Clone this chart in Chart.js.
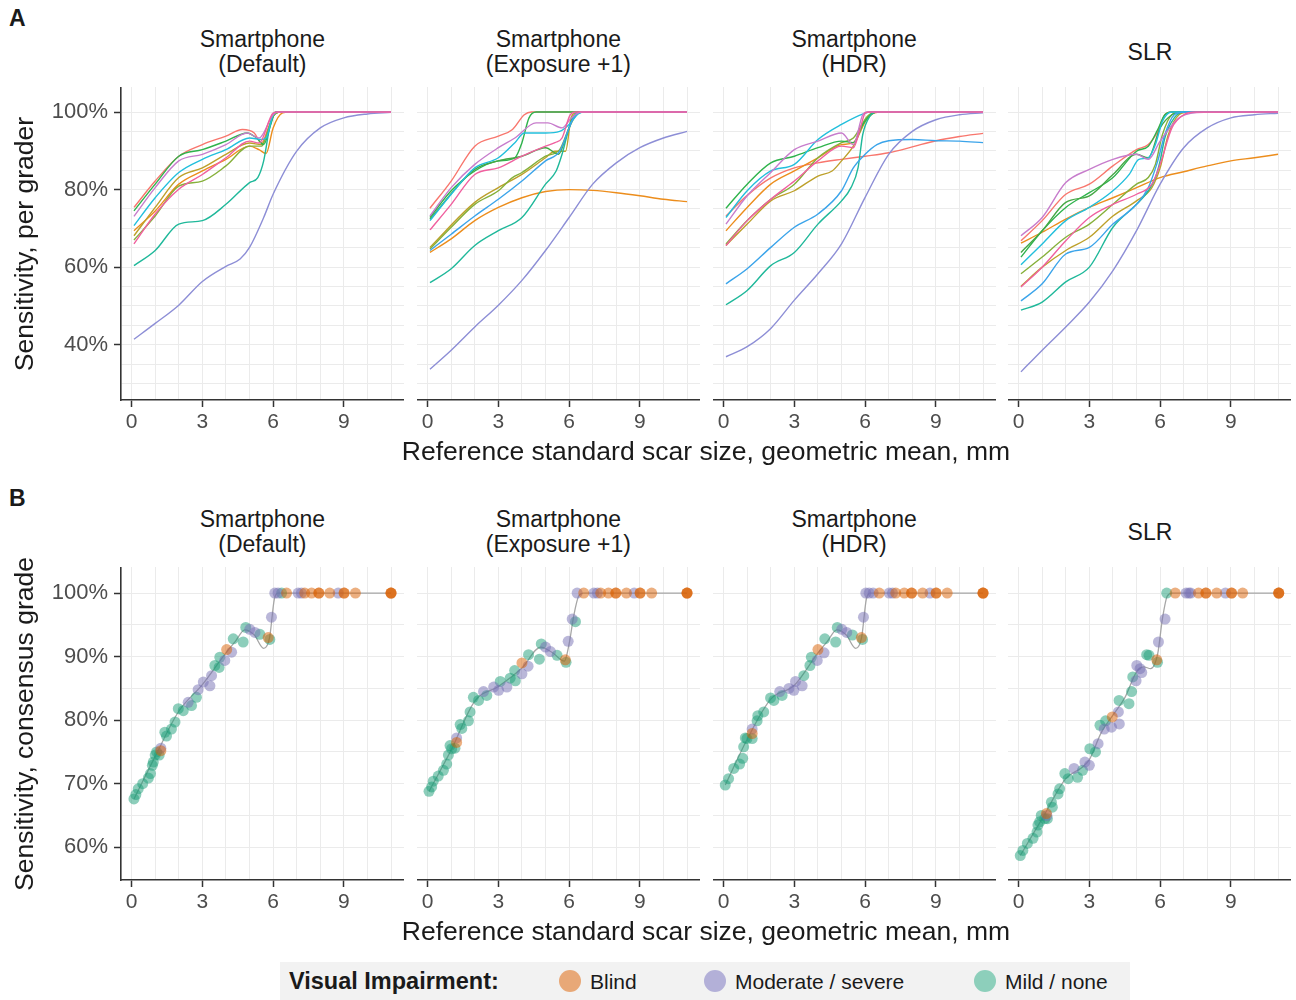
<!DOCTYPE html>
<html>
<head>
<meta charset="utf-8">
<script src="https://cdn.jsdelivr.net/npm/chart.js@4.4.1/dist/chart.umd.min.js"></script>
<style>
  body { margin: 0; background: #fff; font-family: "Liberation Sans", Arial, sans-serif; }
  #page { position: relative; width: 1296px; height: 1000px; overflow: hidden; }
  .abs { position: absolute; white-space: nowrap; color: #1a1a1a; }
  .strip { text-align: center; font-size: 23px; line-height: 25px; height: 50px;
           display: flex; flex-direction: column; justify-content: center; }
  .tag { font-weight: bold; font-size: 23px; }
  .axtitle { font-size: 26.5px; }
  #legend { position: absolute; left: 280px; top: 962px; width: 850px; height: 38px; background: #f2f2f2; }
  #legend span { position: absolute; top: 8px; font-size: 21px; color: #1a1a1a; white-space: nowrap; }
  #legend i { position: absolute; top: 8px; width: 22px; height: 22px; border-radius: 50%; }
</style>
</head>
<body>
<div id="page"></div>
<script>
// ---- data ----
const xTickLabels = [0, 3, 6, 9];
const xGridLines = [0, 1, 2, 3, 4, 5, 6, 7, 8, 9, 10, 11];
const graderTicks = [40, 60, 80, 100];
const graderGrid = [30, 35, 40, 45, 50, 55, 60, 65, 70, 75, 80, 85, 90, 95, 100];
const consensusTicks = [60, 70, 80, 90, 100];
const consensusGrid = [60, 65, 70, 75, 80, 85, 90, 95, 100];
const panelNames = [['Smartphone', '(Default)'], ['Smartphone', '(Exposure +1)'], ['Smartphone', '(HDR)'], ['SLR']];
const groupNames = ['Blind', 'Moderate / severe', 'Mild / none'];

// per grader curves (panel A), [scar size mm, sensitivity %]
const curvesDefault = {
  g1: [[0.1,75.4],[1,82.2],[2,88.6],[3,91.6],[4,93.8],[4.7,95.5],[5.2,94.6],[5.5,92],[5.8,95.9],[6.1,99.7],[6.4,100],[11,100]],
  g2: [[0.1,69.4],[1,74.5],[2,81.4],[3,84.8],[4,87.8],[5,91.2],[5.4,90.3],[5.7,89.3],[6,95.9],[6.4,99.8],[6.7,100],[11,100]],
  g3: [[0.1,68.1],[1,75.4],[2,83.1],[3,85.6],[4,89.1],[5,92],[5.5,91.6],[6,98.9],[6.3,100],[11,100]],
  g4: [[0.1,67.0],[1,73.2],[2,80.9],[3,82.2],[4,86.1],[5,91.2],[5.5,91.2],[6,98.9],[6.3,100],[11,100]],
  g5: [[0.1,74.5],[1,81.4],[2,88.6],[3,90.3],[4,92.5],[4.9,94.6],[5.3,93.3],[5.6,91.6],[5.9,96.8],[6.1,100],[11,100]],
  g7: [[0.1,60.4],[1,64.3],[2,71.1],[3,72.0],[4,76.2],[5,81.8],[5.35,83.1],[5.6,87.4],[5.85,95.9],[6.07,99.7],[6.3,100],[11,100]],
  g8: [[0.1,70.7],[1,77.9],[2,84.4],[3,87.8],[4,90.3],[5,93.3],[5.5,92.9],[5.7,93.3],[6,99.3],[6.2,100],[11,100]],
  g10: [[0.1,41.4],[1,45.5],[2,50.2],[3,56.3],[4,60.2],[4.6,62.1],[5,65.1],[5.6,72.8],[6,78.8],[7,89.9],[8,95.9],[9,98.5],[10,99.5],[11,99.9]],
  g11: [[0.1,73.1],[1,80.5],[2,87.4],[3,89.1],[4,91.6],[4.9,94.6],[5.4,93.3],[6,99.3],[6.2,100],[11,100]],
  g12: [[0.1,66.0],[1,73.7],[2,80.1],[3,83.9],[4,88.2],[5,92.5],[5.4,92],[6,99.7],[6.2,100],[11,100]]
};
const curvesExposure = {
  g1: [[0.1,75.2],[1,82.2],[2,91.2],[3,93.8],[3.6,95.5],[4.1,99.3],[4.4,100],[11,100]],
  g2: [[0.1,63.8],[1,67.3],[2,72.0],[3,75.4],[4,77.9],[5,79.5],[6,80.0],[7,79.8],[8,79.2],[9,78.4],[10,77.5],[11,76.9]],
  g3: [[0.1,65.1],[2,76.7],[3,80.5],[4,83.9],[5,88.2],[5.4,89.9],[5.85,89.9],[6.1,98.8],[6.4,100],[11,100]],
  g4: [[0.1,64.7],[1,70.3],[2,76.2],[3,79.7],[3.6,83.1],[4,84.4],[5,88.6],[5.6,90.3],[6,95.9],[6.3,99.3],[6.6,100],[11,100]],
  g5: [[0.1,72.8],[1,79.7],[2,84.8],[3,87.4],[3.7,88.2],[4,92.1],[4.3,98.5],[4.6,100],[11,100]],
  g6: [[0.1,72.4],[2,85.2],[3,87.4],[4,88.6],[5,90.8],[5.55,89.1],[5.85,93.3],[6.15,98.5],[6.4,100],[11,100]],
  g7: [[0.1,56.0],[1,59.6],[2,65.6],[3,69.4],[4,72.8],[5,81.4],[5.45,84.8],[5.7,89.1],[6,95.9],[6.25,99.3],[6.6,100],[11,100]],
  g8: [[0.1,72.0],[1,78.8],[2,85.6],[3,88.2],[3.7,92.1],[4.1,94.6],[5,94.6],[5.6,95.0],[6,96.8],[6.4,99.6],[6.7,100],[11,100]],
  g9: [[0.1,64.3],[1,68.5],[2,73.2],[3,77.5],[4,82.2],[5,87.4],[5.6,89.9],[6,95.9],[6.3,99.6],[6.6,100],[11,100]],
  g10: [[0.1,33.7],[1,38.6],[2,44.6],[3,50.2],[4,56.6],[5,64.3],[6,72.8],[7,81.4],[8,86.9],[9,90.8],[10,93.3],[11,95.0]],
  g11: [[0.1,73.2],[1,80.5],[2,86.5],[3,90.8],[3.7,93.3],[4.6,97.2],[5.1,97.2],[5.7,95.9],[6.1,98.5],[6.5,100],[11,100]],
  g12: [[0.1,69.6],[1,76.2],[2,83.9],[3,85.6],[4,88.6],[5,91.2],[5.4,92.1],[5.7,93.3],[6.05,99.3],[6.3,100],[11,100]]
};
const curvesHdr = {
  g1: [[0.1,73.2],[1,78.5],[2,83],[3,85.6],[4,86.9],[5,87.8],[6,88.6],[7,89.5],[8,91.0],[9,92.6],[10,93.7],[11,94.5]],
  g2: [[0.1,69.4],[1,75.4],[2,81.4],[3,84.8],[4,88.2],[5,91.6],[5.5,92.1],[6,97.6],[6.4,99.8],[6.7,100],[11,100]],
  g3: [[0.1,65.6],[1,71.1],[2,77.1],[3,79.7],[4,83.5],[4.6,84.8],[5,87.4],[5.5,91.2],[6.1,98.5],[6.5,100],[11,100]],
  g4: [[0.1,66.0],[1,72.0],[2,77.5],[3,81.4],[4,88.2],[5,92.1],[5.5,93.3],[6.1,98.9],[6.5,100],[11,100]],
  g5: [[0.1,75.2],[1,81.4],[2,86.9],[3,88.6],[4,90.8],[5,92.5],[5.5,92.1],[5.9,96.8],[6.3,99.6],[6.6,100],[11,100]],
  g7: [[0.1,50.3],[1,54.0],[2,60.4],[3,63.8],[4,71.1],[5,77.1],[5.4,80.5],[5.7,85.6],[5.9,94.2],[6.2,98.9],[6.5,100],[11,100]],
  g8: [[0.1,72.8],[1,79.7],[2,84.8],[3,86.5],[4,92.9],[5,96.8],[6,99.7],[6.2,100],[11,100]],
  g9: [[0.1,55.7],[1,59.6],[2,65.1],[3,70.3],[4,73.7],[5,79.7],[5.5,85.6],[6,89.1],[6.5,91.6],[7,92.6],[8,92.9],[9,92.6],[10,92.5],[11,92.1]],
  g10: [[0.1,36.9],[1,39.5],[2,44.2],[3,51.5],[4,58.3],[5,66.0],[6,78.0],[7,89.1],[8,95.0],[9,98.0],[10,99.3],[11,99.8]],
  g11: [[0.1,71.1],[1,78.4],[2,84.4],[3,90.3],[4,92.5],[5,94.6],[5.5,91.6],[5.9,99.3],[6.1,100],[11,100]],
  g12: [[0.1,65.6],[1,72.0],[2,77.5],[3,82.2],[4,87.4],[5,91.2],[5.5,90.8],[5.8,95.9],[6.0,99.7],[6.2,100],[11,100]]
};
const curvesSlr = {
  g1: [[0.1,66.8],[1,72.0],[2,78.8],[3,81.4],[4,86.1],[5,90.3],[5.5,91.6],[5.9,95.0],[6.2,99.3],[6.5,100],[11,100]],
  g2: [[0.1,66.2],[1,69.0],[2,72.4],[3,75.4],[4,77.9],[5,80.5],[6,83.1],[7,84.6],[8,86.1],[9,87.4],[10,88.2],[11,89.1]],
  g3: [[0.1,55.1],[1,60.0],[2,64.3],[3,67.7],[4,73.2],[5,77.1],[5.65,80.5],[6,85.6],[6.35,94.2],[6.8,99.3],[7.2,100],[11,100]],
  g4: [[0.1,58.3],[1,62.6],[2,67.7],[3,71.1],[4,76.2],[5,81.4],[5.5,83.1],[5.8,86.5],[6.1,94.2],[6.5,99.3],[6.9,100],[11,100]],
  g5: [[0.1,62.6],[1,69.4],[2,75.4],[3,79.2],[4,83.1],[5,89.9],[5.5,91.2],[5.9,95.5],[6.2,99.3],[6.5,100],[11,100]],
  g6: [[0.1,63.8],[1,69.4],[2,76.7],[3,78.4],[4,83.9],[5,89.1],[5.5,88.2],[6,95.9],[6.5,99.3],[6.9,100],[11,100]],
  g7: [[0.1,48.9],[1,51.0],[2,56.2],[3,60.0],[4,70.3],[5,76.2],[5.5,79.7],[5.8,83.1],[6,87.4],[6.2,93.3],[6.6,98.5],[7,100],[11,100]],
  g8: [[0.1,60.6],[1,66.0],[2,72.0],[3,75.4],[4,79.7],[4.7,84.0],[5.1,87.8],[5.5,88.2],[5.8,91.6],[6.1,97.6],[6.5,100],[11,100]],
  g9: [[0.1,51.3],[1,55.7],[2,63.4],[3,65.1],[4,71.1],[5,76.2],[5.5,80.5],[5.9,87.4],[6.2,94.2],[6.6,99.3],[7,100],[11,100]],
  g10: [[0.1,33.0],[1,38.6],[2,44.6],[3,51.0],[4,59.1],[5,69.4],[6,81.4],[7,90.8],[8,95.9],[9,98.5],[10,99.3],[11,99.7]],
  g11: [[0.1,68.1],[1,72.8],[2,81.8],[3,85.2],[4,87.8],[5,89.1],[5.5,87.8],[6,92.5],[6.9,98.9],[7.9,99.9],[11,100]],
  g12: [[0.1,54.9],[1,60.0],[2,66.8],[3,72.8],[4,76.2],[5,78.8],[5.65,81.4],[6,86.5],[6.5,95.9],[7,99.3],[7.5,100],[11,100]]
};

// consensus grade (panel B): points by visual impairment + fitted line
const blindDefault = [[1.24,75.2],[4.03,91.1],[5.79,93.0],[6.57,100],[7.34,100],[7.63,100],[7.94,100],[7.94,100],[8.4,100],[9.01,100],[9.01,100],[9.49,100],[11,100],[11,100],[11,100]];
const moderateDefault = [[1.24,75.6],[2.4,82.8],[2.82,84.8],[3.04,86.0],[3.32,85.4],[3.39,87.0],[3.95,89.4],[4.24,90.7],[5.01,94.3],[5.23,93.8],[5.93,96.2],[6.07,100],[6.21,100],[7.06,100],[7.2,100],[8.76,100]];
const mildDefault = [[0.1,67.6],[0.18,68.3],[0.28,69.2],[0.47,70.0],[0.71,70.9],[0.8,71.6],[0.88,72.9],[0.92,73.4],[1.0,74.5],[1.06,75.0],[1.17,74.5],[1.41,78.1],[1.48,77.5],[1.69,78.6],[1.84,79.7],[1.98,81.8],[2.19,81.5],[2.54,82.3],[2.75,83.6],[3.53,88.6],[3.71,88.3],[3.74,89.9],[4.31,92.8],[4.73,92.3],[4.84,94.6],[5.44,93.5],[5.86,92.7],[6.36,100]];
const fitDefault = [[0.1,67.6],[1,74.3],[2,81.4],[3,85.6],[4,90.6],[4.4,92.4],[4.8,94.2],[5.2,93.4],[5.6,91.3],[5.85,93],[6.05,99],[6.2,100],[11,100]];

const blindExposure = [[1.23,76.5],[4.0,89.0],[5.84,89.5],[6.62,100],[7.34,100],[7.67,100],[7.98,100],[7.98,100],[8.43,100],[9.01,100],[9.01,100],[9.5,100],[11,100],[11,100],[11,100]];
const moderateExposure = [[1.23,77.2],[2.37,84.5],[2.8,85.2],[3.01,84.7],[3.36,85.2],[4.0,87.3],[4.26,88.5],[5.0,91.5],[5.21,90.8],[5.96,92.4],[6.13,95.9],[6.34,100],[7.05,100],[7.2,100],[8.76,100]];
const mildExposure = [[0.06,68.8],[0.17,69.5],[0.24,70.4],[0.45,71.2],[0.67,72.1],[0.81,73.1],[0.88,74.5],[0.95,76.0],[1.02,75.5],[1.16,75.6],[1.38,79.3],[1.45,78.7],[1.73,79.9],[1.8,81.3],[1.94,83.6],[2.16,83.1],[2.51,83.9],[3.08,86.1],[3.5,86.6],[3.69,87.8],[3.72,86.2],[4.28,90.3],[4.74,89.6],[4.82,92.0],[5.49,90.2],[5.87,89.1],[6.27,95.5]];
const fitExposure = [[0.06,68.8],[1,75.3],[2,83.0],[3,85.3],[4,88.2],[4.8,91.5],[5.3,90.6],[5.8,89.3],[6.0,92],[6.2,96.5],[6.4,99.5],[6.6,100],[11,100]];

const blindHdr = [[1.21,77.9],[4.0,91.1],[5.84,93.0],[6.6,100],[7.3,100],[7.66,100],[7.97,100],[7.97,100],[8.44,100],[9.01,100],[9.01,100],[9.48,100],[11,100],[11,100],[11,100]];
const moderateHdr = [[1.21,78.6],[2.38,84.5],[2.77,85.0],[2.98,84.7],[3.05,86.1],[3.33,85.4],[3.97,89.4],[4.26,90.6],[5.01,94.3],[5.22,93.8],[5.93,96.2],[6.03,100],[6.17,100],[6.34,100],[7.02,100],[7.16,100],[8.75,100]];
const mildHdr = [[0.07,69.8],[0.21,70.8],[0.43,72.4],[0.68,73.1],[0.81,74.0],[0.85,75.8],[0.92,77.2],[0.99,77.1],[1.21,77.1],[1.42,79.9],[1.45,80.7],[1.7,81.3],[1.99,83.5],[2.13,83.1],[2.48,83.9],[3.4,87.0],[3.66,88.6],[3.72,89.9],[4.29,92.8],[4.75,92.3],[4.82,94.6],[5.46,93.4],[5.89,92.7]];
const fitHdr = [[0.07,69.8],[1,77],[2,83.3],[3,85.5],[4,90.6],[4.4,92.4],[4.8,94.2],[5.2,93.4],[5.6,91.3],[5.85,93],[6.05,99],[6.2,100],[11,100]];

const blindSlr = [[1.18,65.3],[3.97,80.5],[5.86,89.5],[6.64,100],[7.63,100],[7.94,100],[7.94,100],[8.4,100],[9.03,100],[9.03,100],[9.5,100],[11.03,100],[11.03,100],[11.03,100]];
const moderateSlr = [[1.2,65.0],[2.35,72.4],[2.81,73.4],[3.0,72.9],[3.37,76.3],[3.63,78.6],[3.94,78.9],[4.23,81.3],[4.27,79.4],[4.98,86.2],[5.01,88.6],[5.15,88.1],[5.22,87.5],[5.93,92.3],[6.21,95.9],[7.1,100],[7.22,100],[7.3,100],[8.77,100]];
const mildSlr = [[0.07,58.7],[0.18,59.5],[0.37,60.6],[0.61,61.4],[0.78,62.4],[0.82,63.5],[0.89,64.0],[0.96,65.0],[1.11,64.5],[1.22,64.5],[1.39,67.1],[1.43,66.3],[1.67,68.4],[1.74,69.2],[1.96,71.6],[2.1,70.8],[2.5,71.0],[2.71,72.1],[3.02,75.5],[3.26,75.0],[3.45,79.2],[3.69,79.9],[4.26,83.1],[4.68,82.6],[4.79,84.5],[4.84,86.8],[5.43,90.3],[5.53,90.2],[5.89,89.1],[6.28,100]];
const fitSlr = [[0.07,58.7],[1,64.5],[2,70.8],[2.7,72.6],[3,73.8],[3.5,78],[4,80.8],[4.5,83.5],[5,87.6],[5.3,88.4],[5.6,88.1],[5.9,90.5],[6.1,96],[6.3,99.5],[6.5,100],[11,100]];

// ---- styles ----
const graderColors = {
  g1: '#f8766d', g2: '#ec8d1c', g3: '#bda02a', g4: '#86b03a', g5: '#2fb34c', g6: '#45a845',
  g7: '#1fb89a', g8: '#22bfdc', g9: '#3ba4ea', g10: '#8d8ed6', g11: '#c77ccc', g12: '#f0609f'
};
const groupColors = ['rgba(217,95,2,0.5)', 'rgba(117,112,179,0.5)', 'rgba(27,158,119,0.5)'];
const legendColors = ['#e8a877', '#b3b0d8', '#8dcfbb'];
const FONT = '"Liberation Sans", Arial, sans-serif';

const colLeft = [120.7, 416.7, 712.5, 1008.3];
const panelW = 283.3;
const xRange = [-0.45, 11.55];
const rowA = { top: 87.3, h: 313.4, min: 25.75, max: 106.45 };
const rowB = { top: 567, h: 313, min: 54.85, max: 104.1 };
const Y_AXIS_W = 110, X_AXIS_H = 42;

const page = document.getElementById('page');

function addText(html, cls, style) {
  const d = document.createElement('div');
  d.className = 'abs ' + cls;
  d.innerHTML = html;
  Object.assign(d.style, style);
  page.appendChild(d);
  return d;
}

function toXY(pts) { return pts.map(([x, y]) => ({ x, y })); }

// keep the plot area exactly where the facet sits: no label overflow padding
function noPad(s) { s.paddingTop = s.paddingBottom = s.paddingLeft = s.paddingRight = 0; }

function makePanel(col, row, gridVals, tickVals, datasets) {
  const first = col === 0;
  const yw = first ? Y_AXIS_W : 0;
  const cv = document.createElement('canvas');
  const w = Math.round(panelW + yw), h = Math.round(row.h + X_AXIS_H);
  cv.width = w; cv.height = h;
  cv.style.position = 'absolute';
  cv.style.left = (colLeft[col] - yw) + 'px';
  cv.style.top = row.top + 'px';
  page.appendChild(cv);

  new Chart(cv.getContext('2d'), {
    type: 'scatter',
    data: { datasets },
    options: {
      responsive: false,
      animation: false,
      devicePixelRatio: 1,
      layout: { padding: 0, autoPadding: false },
      plugins: { legend: { display: false }, tooltip: { enabled: false } },
      scales: {
        x: {
          type: 'linear', min: xRange[0], max: xRange[1],
          afterBuildTicks: s => { s.ticks = xGridLines.map(v => ({ value: v })); },
          afterFit: s => { s.height = X_AXIS_H; noPad(s); },
          ticks: {
            autoSkip: false, maxRotation: 0, padding: 3,
            color: '#4d4d4d', font: { family: FONT, size: 21 },
            callback: v => xTickLabels.includes(v) ? String(v) : ''
          },
          grid: {
            color: '#ebebeb', lineWidth: 1, tickLength: 7, tickWidth: 1.5,
            tickColor: c => (c.tick && xTickLabels.includes(c.tick.value)) ? '#333' : 'rgba(0,0,0,0)'
          },
          border: { display: true, color: '#333', width: 1.6 }
        },
        y: {
          type: 'linear', min: row.min, max: row.max,
          afterBuildTicks: s => { s.ticks = gridVals.map(v => ({ value: v })); },
          afterFit: s => { s.width = yw; noPad(s); },
          ticks: {
            display: first, autoSkip: false, padding: 6,
            color: '#4d4d4d', font: { family: FONT, size: 22 },
            callback: v => tickVals.includes(v) ? v + '%' : ''
          },
          grid: {
            color: '#ebebeb', lineWidth: 1, drawTicks: first, tickLength: 7, tickWidth: 1.5,
            tickColor: c => (c.tick && tickVals.includes(c.tick.value)) ? '#333' : 'rgba(0,0,0,0)'
          },
          border: { display: first, color: '#333', width: 1.6 }
        }
      }
    }
  });
}

// ---- row A: per grader curves ----
[curvesDefault, curvesExposure, curvesHdr, curvesSlr].forEach((curves, col) => {
  const keys = Object.keys(graderColors).filter(k => curves[k]);
  const datasets = keys.map((k, i) => ({
    type: 'line',
    data: toXY(curves[k]),
    borderColor: graderColors[k],
    borderWidth: 1.4,
    pointRadius: 0,
    fill: false,
    cubicInterpolationMode: 'monotone',
    order: keys.length - i
  }));
  makePanel(col, rowA, graderGrid, graderTicks, datasets);
});

// ---- row B: consensus grade ----
[
  [blindDefault, moderateDefault, mildDefault, fitDefault],
  [blindExposure, moderateExposure, mildExposure, fitExposure],
  [blindHdr, moderateHdr, mildHdr, fitHdr],
  [blindSlr, moderateSlr, mildSlr, fitSlr]
].forEach(([blind, moderate, mild, fit], col) => {
  const datasets = [
    { type: 'line', data: toXY(fit), borderColor: '#a6a6a6', borderWidth: 1.3, pointRadius: 0,
      fill: false, cubicInterpolationMode: 'monotone', order: 10 },
    { data: toXY(mild), backgroundColor: groupColors[2], borderWidth: 0, pointRadius: 5.5, order: 3 },
    { data: toXY(moderate), backgroundColor: groupColors[1], borderWidth: 0, pointRadius: 5.5, order: 2 },
    { data: toXY(blind), backgroundColor: groupColors[0], borderWidth: 0, pointRadius: 5.5, order: 1 }
  ];
  makePanel(col, rowB, consensusGrid, consensusTicks, datasets);
});

// ---- text ----
[0, 480].forEach((dy, r) => {
  addText(r === 0 ? 'A' : 'B', 'tag', { left: '9px', top: (5 + dy) + 'px' });
  panelNames.forEach((lines, col) => {
    addText(lines.join('<br>'), 'strip', { left: colLeft[col] + 'px', width: panelW + 'px', top: (27 + dy) + 'px' });
  });
  addText('Reference standard scar size, geometric mean, mm', 'axtitle',
    { left: '706px', top: (436 + dy) + 'px', transform: 'translateX(-50%)' });
});
addText('Sensitivity, per grader', 'axtitle',
  { left: '24px', top: '244px', transform: 'translate(-50%,-50%) rotate(-90deg)' });
addText('Sensitivity, consensus grade', 'axtitle',
  { left: '24px', top: '724px', transform: 'translate(-50%,-50%) rotate(-90deg)' });

// ---- legend ----
const legend = document.createElement('div');
legend.id = 'legend';
page.appendChild(legend);
const title = document.createElement('span');
title.textContent = 'Visual Impairment:';
title.style.left = '9px';
title.style.fontWeight = 'bold';
title.style.fontSize = '23.5px';
title.style.top = '6px';
legend.appendChild(title);
const dotX = [290, 435, 705];
groupNames.forEach((name, i) => {
  const dot = document.createElement('i');
  dot.style.left = (dotX[i] - 11) + 'px';
  dot.style.background = legendColors[i];
  legend.appendChild(dot);
  const s = document.createElement('span');
  s.textContent = name;
  s.style.left = (dotX[i] + 20) + 'px';
  legend.appendChild(s);
});
</script>
</body>
</html>
